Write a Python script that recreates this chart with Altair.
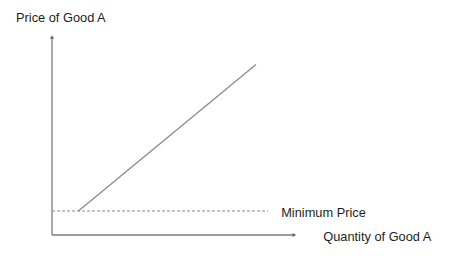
import altair as alt
import pandas as pd

# Conceptual data (quantity, price)
supply_q = [1.1, 8.5]
supply_p = [1.0, 7.1]
min_price = 1.0
min_price_q = [0.0, 9.0]
x_axis_end = 10.1
y_axis_end = 8.25
labels = ["Price of Good A", "Minimum Price", "Quantity of Good A"]
label_q = [-1.5, 9.55, 11.3]
label_p = [9.05, 0.92, -0.08]

xs = alt.Scale(domain=[-52 / 24, (462 - 52) / 24], nice=False, zero=False)
ys = alt.Scale(domain=[(235 - 256) / 24, 235 / 24], nice=False, zero=False)

supply = pd.DataFrame({"q": supply_q, "p": supply_p})
minp = pd.DataFrame({"q": min_price_q, "p": [min_price, min_price]})
axes = pd.DataFrame({"q": [0, 0], "q2": [0, x_axis_end], "p": [0, 0], "p2": [y_axis_end, 0]})
heads = pd.DataFrame({"q": [0, x_axis_end], "p": [y_axis_end, 0], "s": ["triangle-up", "triangle-right"]})
txt = pd.DataFrame({"q": label_q, "p": label_p, "t": labels})

X = lambda f: alt.X(f, type="quantitative", scale=xs, axis=None)
Y = lambda f: alt.Y(f, type="quantitative", scale=ys, axis=None)

ax = alt.Chart(axes).mark_rule(color="#7a7a7a", strokeWidth=1.3).encode(
    x=X("q"), x2="q2", y=Y("p"), y2="p2")
hd = alt.Chart(heads).mark_point(filled=True, color="#666", size=18, opacity=1).encode(
    x=X("q"), y=Y("p"), shape=alt.Shape("s:N", scale=None))
sl = alt.Chart(supply).mark_line(color="#8a8a8a", strokeWidth=1.3).encode(x=X("q"), y=Y("p"))
ml = alt.Chart(minp).mark_line(color="#8a8a8a", strokeWidth=1, strokeDash=[3, 2]).encode(x=X("q"), y=Y("p"))
tx = alt.Chart(txt).mark_text(align="left", baseline="middle", font="Liberation Sans",
                              fontSize=12.8, color="#1e1e1e").encode(x=X("q"), y=Y("p"), text="t:N")

chart = alt.layer(ax, ml, sl, hd, tx).properties(
    width=462, height=256, autosize=alt.AutoSizeParams(type="none"), padding=0,
    background="white"
).configure_view(stroke=None)

chart.save("out.html", embed_options={"renderer": "svg", "actions": False})
